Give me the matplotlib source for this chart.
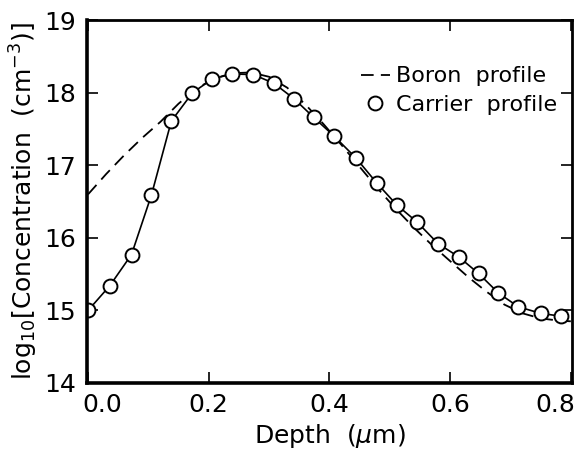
import numpy as np
import matplotlib.pyplot as plt
import matplotlib.transforms as mtransforms

# carrier profile (circles)
carrier_depth = [0.000, 0.036, 0.072, 0.105, 0.138, 0.173, 0.206, 0.239, 0.274,
                 0.308, 0.341, 0.374, 0.408, 0.444, 0.479, 0.512, 0.545, 0.580,
                 0.614, 0.647, 0.680, 0.713, 0.750, 0.784]
carrier_conc = [15.00, 15.34, 15.77, 16.59, 17.61, 18.00, 18.19, 18.26, 18.25,
                18.13, 17.92, 17.66, 17.40, 17.10, 16.75, 16.45, 16.22, 15.92,
                15.74, 15.51, 15.24, 15.05, 14.96, 14.92]

# boron profile (dashed line)
boron_depth = [0.00, 0.03, 0.06, 0.09, 0.12, 0.15, 0.18, 0.21, 0.24, 0.27,
               0.30, 0.33, 0.36, 0.39, 0.42, 0.45, 0.48, 0.51, 0.54, 0.57,
               0.60, 0.63, 0.66, 0.69, 0.72, 0.75, 0.78, 0.80]
boron_conc = [16.60, 16.88, 17.14, 17.38, 17.60, 17.85, 18.06, 18.20, 18.27, 18.28,
              18.22, 18.07, 17.84, 17.57, 17.28, 16.98, 16.68, 16.40, 16.14, 15.90,
              15.68, 15.46, 15.26, 15.08, 14.96, 14.89, 14.86, 14.85]

x_ticks = [0.0, 0.2, 0.4, 0.6, 0.8]
x_labels = ['0.0', '0.2', '0.4', '0.6', '0.8']
y_ticks = [14, 15, 16, 17, 18, 19]

plt.rcParams['font.family'] = ['DejaVu Sans']

fig, ax = plt.subplots(figsize=(5.79, 4.49), dpi=100)
fig.subplots_adjust(left=0.150, right=0.988, top=0.955, bottom=0.147)

ax.plot(boron_depth, boron_conc, color='black', linestyle=(0, (7, 4)), linewidth=1.3,
        label='Boron  profile')
ax.plot(carrier_depth, carrier_conc, color='black', linewidth=1.2, marker='o',
        markersize=10, markerfacecolor='white', markeredgewidth=1.4,
        label='Carrier  profile')

ax.set_xlim(-0.002, 0.802)
ax.set_ylim(14, 19)
ax.set_xticks(x_ticks)
ax.set_xticklabels(x_labels)
ax.set_yticks(y_ticks)

ax.tick_params(direction='in', length=8, width=1.2, top=True, right=True,
               labelsize=18)
ax.tick_params(axis='x', pad=7)
ax.tick_params(axis='y', pad=8)

# end labels sit inside the axis span, as in the original
xt = ax.get_xticklabels()
xt[0].set_transform(xt[0].get_transform() +
                    mtransforms.ScaledTranslation(0.14, 0, fig.dpi_scale_trans))
xt[-1].set_transform(xt[-1].get_transform() +
                     mtransforms.ScaledTranslation(-0.16, 0, fig.dpi_scale_trans))

for name, s in ax.spines.items():
    s.set_linewidth(2.6 if name in ('left', 'bottom') else 2.0)

ax.set_xlabel(r'Depth  ($\mu$m)', fontsize=18, labelpad=4)
ax.set_ylabel(r'log$_{10}$[Concentration  (cm$^{-3}$)]', fontsize=18, labelpad=3)

leg = ax.legend(loc='upper right', bbox_to_anchor=(0.97, 0.873), frameon=False,
                fontsize=16, handlelength=1.3, handletextpad=0.3, labelspacing=0.4,
                borderaxespad=0, borderpad=0)
# carrier legend shows only the circle
leg.legend_handles[1].set_linestyle('none')

fig.savefig('out.png', dpi=100)
